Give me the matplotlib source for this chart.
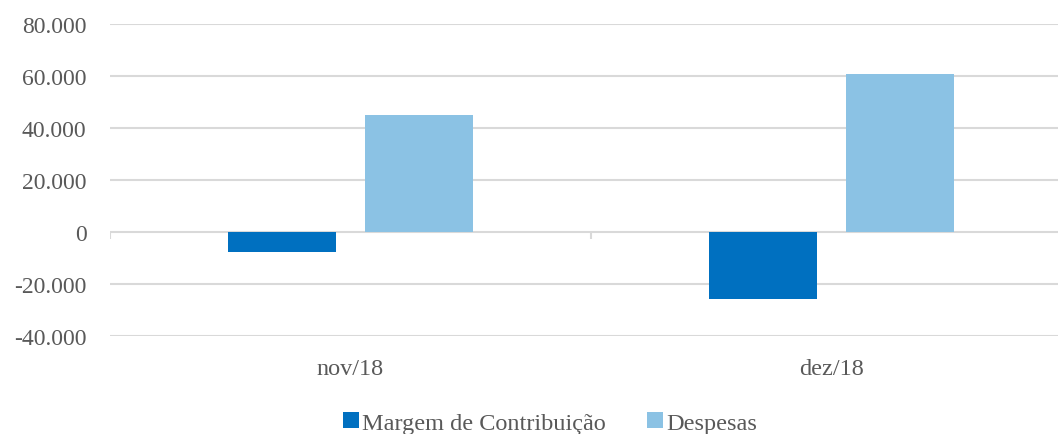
import numpy as np
import matplotlib.pyplot as plt
from matplotlib.ticker import FuncFormatter

# values
categories = ['nov/18', 'dez/18']
margem = [-7800, -25800]
despesas = [45000, 60700]
series_names = ['Margem de Contribuição', 'Despesas']
colors = ['#0070c0', '#8bc2e4']
text_color = '#595959'
grid_color = '#d9d9d9'

plt.rcParams['font.family'] = ['Liberation Serif', 'DejaVu Serif']

fig = plt.figure(figsize=(10.58, 4.35), dpi=100)
ax = fig.add_axes([110 / 1058, 1 - 337 / 435, 948 / 1058, (337 - 25) / 435])

x = np.arange(len(categories))
w = 0.2245
off = 0.142
ax.bar(x - off, margem, w, color=colors[0], label=series_names[0], zorder=3)
ax.bar(x + off, despesas, w, color=colors[1], label=series_names[1], zorder=3)

ax.set_ylim(-40000, 80000)
ax.set_yticks(np.arange(-40000, 80001, 20000))
ax.yaxis.set_major_formatter(FuncFormatter(lambda v, p: f'{int(v):,}'.replace(',', '.')))
ax.grid(axis='y', color=grid_color, linewidth=1.5, zorder=0)
ax.set_xlim(-0.5, 948 / 481 - 0.5)

# small category separator ticks on the zero line
ax.vlines([-0.5, 0.5], -2700, 0, color=grid_color, linewidth=1.5, zorder=2)

ax.set_xticks(x)
ax.set_xticklabels(categories)
ax.tick_params(axis='x', length=0, pad=16, labelsize=17.5, colors=text_color)
ax.tick_params(axis='y', length=0, pad=17, labelsize=17, colors=text_color)
for s in ax.spines.values():
    s.set_visible(False)

leg = fig.legend(loc='center', bbox_to_anchor=(0.52, 1 - 424 / 435), ncol=2, frameon=False,
                 fontsize=17.5, handlelength=0.65, handleheight=0.65, handletextpad=0.15,
                 columnspacing=1.7)
for t in leg.get_texts():
    t.set_color(text_color)

fig.savefig('out.png', dpi=100)
